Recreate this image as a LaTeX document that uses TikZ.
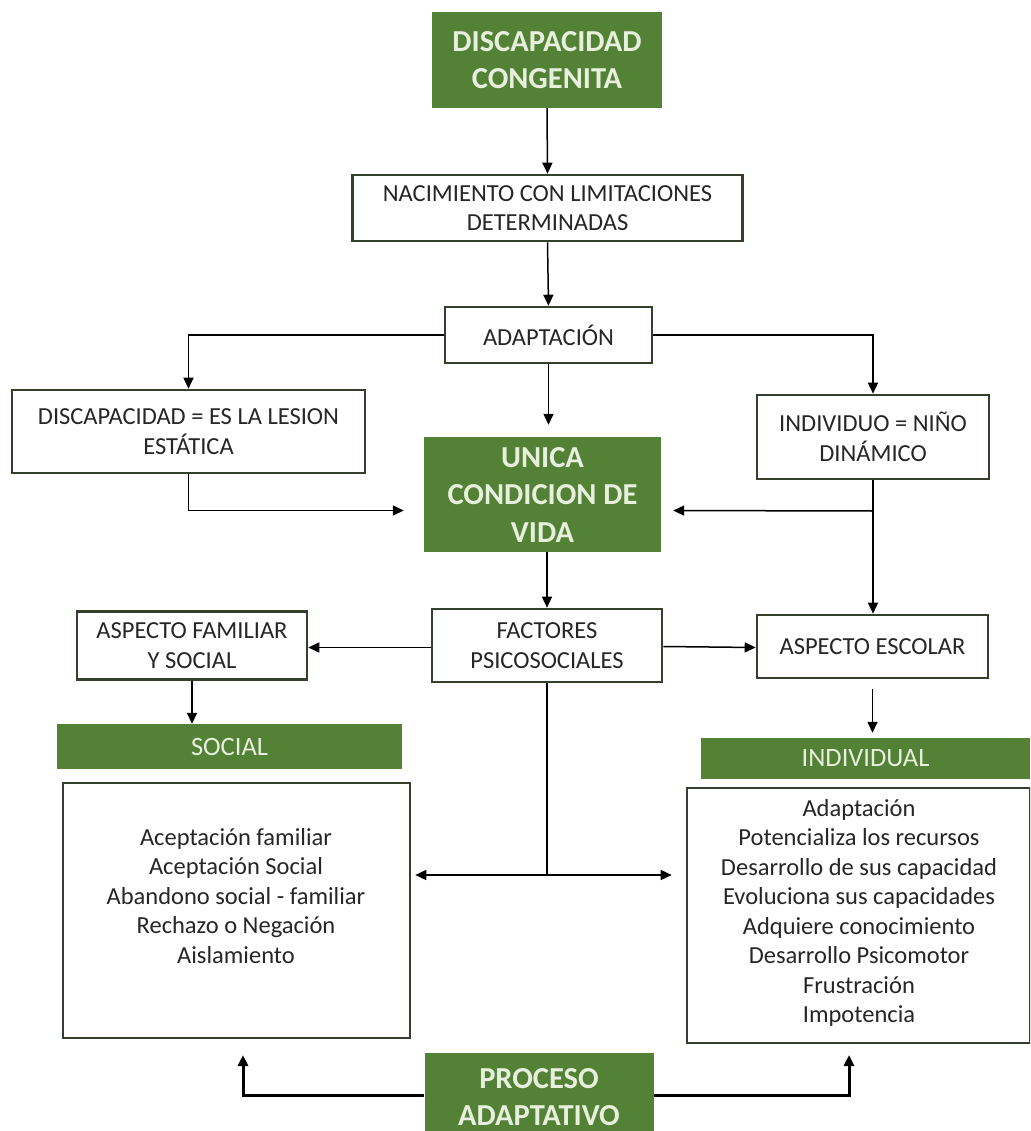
\documentclass[tikz,border=0pt]{standalone}
\usepackage{fontspec}
\setmainfont{Carlito}
\usetikzlibrary{arrows.meta,calc}
\definecolor{gfill}{HTML}{538135}
\definecolor{gtext}{HTML}{E6F0DC}
\definecolor{bord}{HTML}{34402C}
\tikzset{
  wbox/.style={draw=bord, line width=2.6pt, fill=white, rectangle, align=center, inner sep=0pt,
    font=\fontsize{24.5}{29.5}\selectfont, text=black!85},
  gbox/.style={fill=gfill, rectangle, align=center, inner sep=0pt, text=gtext,
    font=\fontsize{30.5}{37.5}\selectfont\bfseries},
  glabel/.style={fill=gfill, rectangle, align=center, inner sep=0pt, text=gtext,
    font=\fontsize{26.5}{30}\selectfont},
  listtext/.style={align=center, inner sep=0pt, font=\fontsize{24.5}{29.5}\selectfont, text=black!85},
  arr/.style={draw=black, line width=1.5pt, -{Triangle[length=11pt,width=10pt]}},
  darr/.style={draw=black, line width=1.5pt, {Triangle[length=11pt,width=10pt]}-{Triangle[length=11pt,width=10pt]}},
  tarr/.style={draw=black, line width=3pt, -{Triangle[length=11pt,width=10pt]}},
  plain/.style={draw=black, line width=1.5pt}
}
\begin{document}
\begin{tikzpicture}[x=1pt,y=-1pt]
\useasboundingbox (0,0) rectangle (1030,1131);
\clip (0,0) rectangle (1030,1131);
\fill[white] (0,0) rectangle (1030,1131);

% nodes
\node[gbox, minimum width=230pt, minimum height=96pt] (top) at (547,60) {DISCAPACIDAD\\CONGENITA};
\node[wbox, minimum width=390pt, minimum height=66pt] (nac) at (547.5,208) {NACIMIENTO CON LIMITACIONES\\DETERMINADAS};
\node[wbox, minimum width=207pt, minimum height=56pt] (adap) at (548.5,335) {ADAPTACIÓN};
\node[wbox, minimum width=353pt, minimum height=83pt] (lesion) at (188.5,431.5) {DISCAPACIDAD = ES LA LESION\\ESTÁTICA};
\node[wbox, minimum width=232pt, minimum height=84pt] (indiv) at (873,437) {INDIVIDUO = NIÑO\\DINÁMICO};
\node[gbox, minimum width=237pt, minimum height=115pt] (unica) at (542.5,494.5) {UNICA\\CONDICION DE\\VIDA};
\node[wbox, minimum width=230pt, minimum height=73pt] (fact) at (547,645.5) {FACTORES\\PSICOSOCIALES};
\node[wbox, minimum width=230pt, minimum height=68pt] (fam) at (192,645.5) {ASPECTO FAMILIAR\\Y SOCIAL};
\node[wbox, minimum width=231pt, minimum height=63pt] (esc) at (872.5,646.5) {ASPECTO ESCOLAR};
\node[glabel, minimum width=345pt, minimum height=45pt] (social) at (229.5,746.5) {SOCIAL};
\node[glabel, minimum width=329pt, minimum height=41pt] (individual) at (865.5,758.5) {INDIVIDUAL};
\node[wbox, minimum width=347pt, minimum height=255pt] (slist) at (236.5,910.5) {};
\node[listtext] (sltext) at (236,896) {Aceptación familiar\\Aceptación Social\\Abandono social - familiar\\Rechazo o Negación\\Aislamiento};
\node[wbox, minimum width=343pt, minimum height=255pt] (ilist) at (858.5,915.5) {};
\node[listtext] (iltext) at (859,913) {Adaptación\\Potencializa los recursos\\Desarrollo de sus capacidad\\Evoluciona sus capacidades\\Adquiere conocimiento\\Desarrollo Psicomotor\\Frustración\\Impotencia};
\node[gbox, minimum width=229pt, minimum height=88pt] (proc) at (539,1097) {PROCESO\\ADAPTATIVO};

% connectors
\draw[arr] (top.south) -- (nac.north);
\draw[arr] (nac.south) -- (adap.north);
\draw[arr] (adap.west) -| (lesion.north);
\draw[arr] (adap.east) -| (indiv.north);
\draw[arr, shorten >=12pt] (adap.south) -- (adap.south |- unica.north);
\draw[arr, shorten >=20pt] (lesion.south) |- ([yshift=-16pt]unica.west);
\coordinate (rj) at (indiv.south |- 0,511);
\draw[arr] (indiv.south) -- (indiv.south |- esc.north);
\draw[arr, shorten >=12pt] (rj) -- ([yshift=-16pt]unica.east);
\draw[arr] (unica.south -| fact.north) -- (fact.north);
\draw[arr] ([yshift=-2pt]fact.west) -- ([yshift=-2pt]fam.east);
\draw[arr] ([yshift=-1pt]fact.east) -- ([yshift=-1pt]esc.west);
\draw[arr] (fam.south) -- (fam.south |- social.north);
\draw[arr, shorten <=10pt, shorten >=5pt] (esc.south) -- (esc.south |- individual.north);
\coordinate (fj) at (fact.south |- 0,875);
\draw[plain] (fact.south) -- (fj);
\draw[darr, shorten <=4pt, shorten >=14pt] (slist.east |- fj) -- (ilist.west |- fj);
\coordinate (pl) at (243,1039);
\coordinate (pr) at (849,1043);
\draw[tarr, shorten >=16pt] ([yshift=2pt]proc.west) -| (pl);
\draw[tarr, shorten >=12pt] ([yshift=2pt]proc.east) -| (pr);
\end{tikzpicture}
\end{document}
